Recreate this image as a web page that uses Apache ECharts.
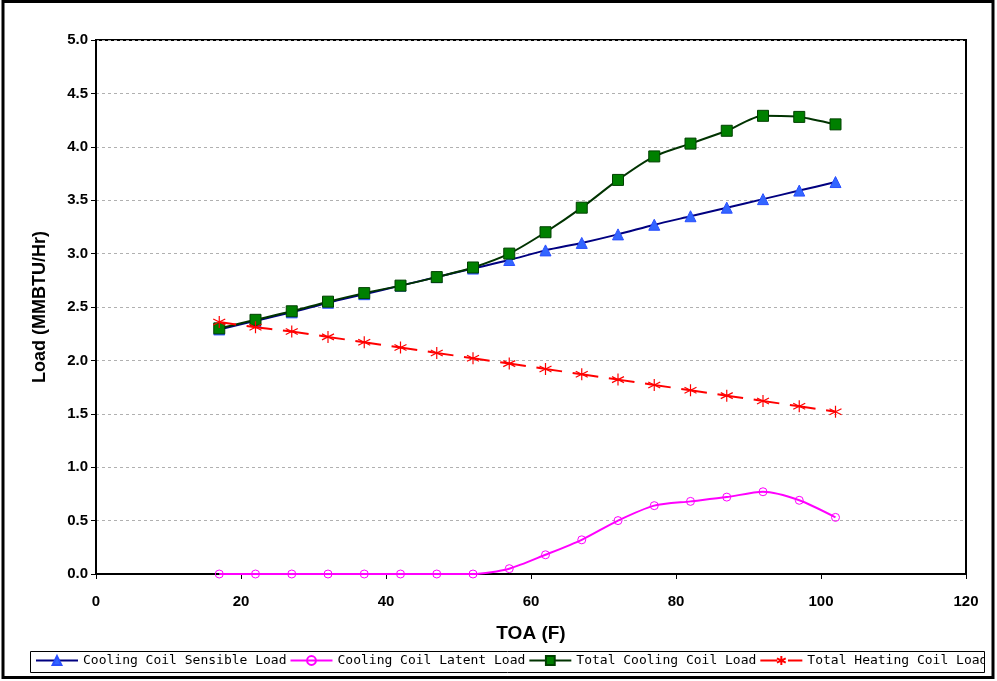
<!DOCTYPE html>
<html><head><meta charset="utf-8">
<script src="https://cdn.jsdelivr.net/npm/echarts@6/dist/echarts.min.js"></script>
<style>html,body{margin:0;padding:0;background:#fff}#c{width:997px;height:681px}</style>
</head><body><div id="c"></div>
<script>
const toa = [17,22,27,32,37,42,47,52,57,62,67,72,77,82,87,92,97,102];
const sensible = [2.29,2.37,2.45,2.54,2.62,2.70,2.78,2.86,2.94,3.03,3.10,3.18,3.27,3.35,3.43,3.51,3.59,3.67];
const latent = [0,0,0,0,0,0,0,0,0.05,0.18,0.32,0.50,0.64,0.68,0.72,0.77,0.69,0.53];
const totalCooling = [2.30,2.38,2.46,2.55,2.63,2.70,2.78,2.87,3.00,3.20,3.43,3.69,3.91,4.03,4.15,4.29,4.28,4.21];
const totalHeating = [2.36,2.31,2.27,2.22,2.17,2.12,2.07,2.02,1.97,1.92,1.87,1.82,1.77,1.72,1.67,1.62,1.57,1.52];
const seriesNames = ['Cooling Coil Sensible Load','Cooling Coil Latent Load','Total Cooling Coil Load','Total Heating Coil Load'];

const pair = arr => toa.map((x,i)=>[x,arr[i]]);
const chart = echarts.init(document.getElementById('c'));
const lbl = {fontFamily:'Liberation Sans, Arial', fontWeight:'bold', fontSize:15, color:'#000'};
const star = 'path://M5,0L5,10M0.7,2.5L9.3,7.5M0.7,7.5L9.3,2.5';
chart.setOption({
  animation:false,
  backgroundColor:'#fff',
  graphic:[
    {type:'rect', shape:{x:3,y:1.5,width:990,height:676}, style:{fill:'none',stroke:'#000',lineWidth:3}, z:100},
    {type:'rect', shape:{x:30.5,y:651.5,width:954,height:21}, style:{fill:'none',stroke:'#000',lineWidth:1}, z:100},
    {type:'rect', shape:{x:985,y:650,width:6,height:24}, style:{fill:'#fff'}, z:99}
  ],
  grid:{left:96,right:31,top:40,bottom:107,show:true,borderColor:'#000',borderWidth:2},
  xAxis:{type:'value',min:0,max:120,interval:20,
    name:'TOA (F)',nameLocation:'middle',nameGap:50,
    nameTextStyle:{fontFamily:'Liberation Sans, Arial',fontWeight:'bold',fontSize:19,color:'#000'},
    axisLine:{show:true,lineStyle:{color:'#000',width:2}},
    axisTick:{show:true,length:5,lineStyle:{color:'#000',width:1}},
    axisLabel:Object.assign({margin:20},lbl),
    splitLine:{show:false}},
  yAxis:{type:'value',min:0,max:5,interval:0.5,
    name:'Load (MMBTU/Hr)',nameLocation:'middle',nameGap:47,nameRotate:90,
    nameTextStyle:{fontFamily:'Liberation Sans, Arial',fontWeight:'bold',fontSize:18,color:'#000'},
    axisLine:{show:true,lineStyle:{color:'#000',width:2}},
    axisTick:{show:true,length:5,lineStyle:{color:'#000',width:1}},
    axisLabel:Object.assign({margin:8,formatter:v=>v.toFixed(1)},lbl),
    splitLine:{show:true,lineStyle:{color:'#b0b0b0',type:[3,3],width:1}}},
  legend:{left:35,top:654,width:1200,itemWidth:42,itemHeight:11,itemGap:3,padding:0,
    data:seriesNames,
    textStyle:{fontFamily:'DejaVu Sans Mono',fontSize:13,color:'#000'}},
  series:[
    {name:seriesNames[0],type:'line',data:pair(sensible),smooth:0.25,
      symbol:'triangle',symbolSize:11,
      lineStyle:{color:'#000080',width:2},
      itemStyle:{color:'#3366ff',borderColor:'#2a4fff',borderWidth:1},z:2},
    {name:seriesNames[1],type:'line',data:pair(latent),smooth:0.25,
      symbol:'circle',symbolSize:8,
      lineStyle:{color:'#ff00ff',width:2},
      itemStyle:{color:'rgba(255,255,255,0)',borderColor:'#ff00ff',borderWidth:1},z:3},
    {name:seriesNames[2],type:'line',data:pair(totalCooling),smooth:0.25,
      symbol:'rect',symbolSize:11,
      lineStyle:{color:'#003300',width:2},
      itemStyle:{color:'#008000',borderColor:'#004000',borderWidth:1},z:4},
    {name:seriesNames[3],type:'line',data:pair(totalHeating),smooth:0.25,
      symbol:star,symbolSize:12,
      lineStyle:{color:'#ff0000',width:2,type:[26,10.6],dashOffset:9},
      itemStyle:{color:'rgba(255,0,0,0)',borderColor:'#ff0000',borderWidth:1.2},z:5}
  ]
});
</script></body></html>
